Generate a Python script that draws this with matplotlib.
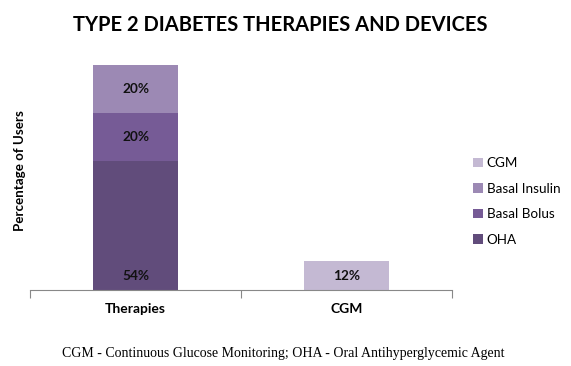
import matplotlib
matplotlib.use("Agg")
import matplotlib.pyplot as plt
import numpy as np

categories = ["Therapies", "CGM"]
series_names = ["OHA", "Basal Bolus", "Basal Insulin", "CGM"]
oha = [54, 0]
basal_bolus = [20, 0]
basal_insulin = [20, 0]
cgm = [0, 12]
colors = ["#614c7b", "#765b96", "#9c89b4", "#c4b9d3"]

W, H = 571, 366
fig = plt.figure(figsize=(W / 100, H / 100), dpi=100)
ax = fig.add_axes([30 / W, 76 / H, (452 - 30) / W, (290 - 51) / H])

font = "Lato"
x = np.arange(len(categories))
bottom = np.zeros(len(categories))
handles = []
for name, vals, c in zip(series_names, [oha, basal_bolus, basal_insulin, cgm], colors):
    vals = np.array(vals, dtype=float)
    bars = ax.bar(x, vals, 0.4, bottom=bottom, color=c, label=name)
    handles.append(bars)
    for xi, v, b in zip(x, vals, bottom):
        if v > 0:
            if name == "OHA":
                y = b + 6
            else:
                y = b + v / 2
            ax.text(xi, y, f"{int(v)}%", ha="center", va="center",
                    fontsize=9.8, fontweight="bold", family=font, color="#111111")
    bottom += vals

ax.set_xlim(-0.5, 1.5)
ax.set_ylim(0, 100)
for s in ["top", "right", "left"]:
    ax.spines[s].set_visible(False)
ax.spines["bottom"].set_color("#888888")
ax.set_yticks([])
ax.set_xticks([-0.5, 0.5, 1.5])
ax.set_xticklabels([])
ax.tick_params(axis="x", length=6, color="#888888", direction="out")
for xi, lab in zip(x, categories):
    ax.text(xi, -8, lab, ha="center", va="center", fontsize=10,
            fontweight="bold", family=font)

fig.text(20 / W, 1 - 171 / H, "Percentage of Users", rotation=90, ha="center",
         va="center", fontsize=9.6, fontweight="bold", family=font)

fig.text(280 / W, 1 - 25 / H, "TYPE 2 DIABETES THERAPIES AND DEVICES",
         ha="center", va="center", fontsize=14.5, fontweight="bold", family=font)

fig.text(283 / W, 1 - 354 / H,
         "CGM - Continuous Glucose Monitoring; OHA - Oral Antihyperglycemic Agent",
         ha="center", va="center", fontsize=10, family="Liberation Serif")

leg = fig.legend(handles[::-1], series_names[::-1], loc="upper left",
                 bbox_to_anchor=(461 / W, 1 - 145 / H), frameon=False,
                 handlelength=0.7, handleheight=0.7, handletextpad=0.3,
                 labelspacing=1.0, prop={"family": font, "size": 9.7})

fig.savefig("out.png", dpi=100)
